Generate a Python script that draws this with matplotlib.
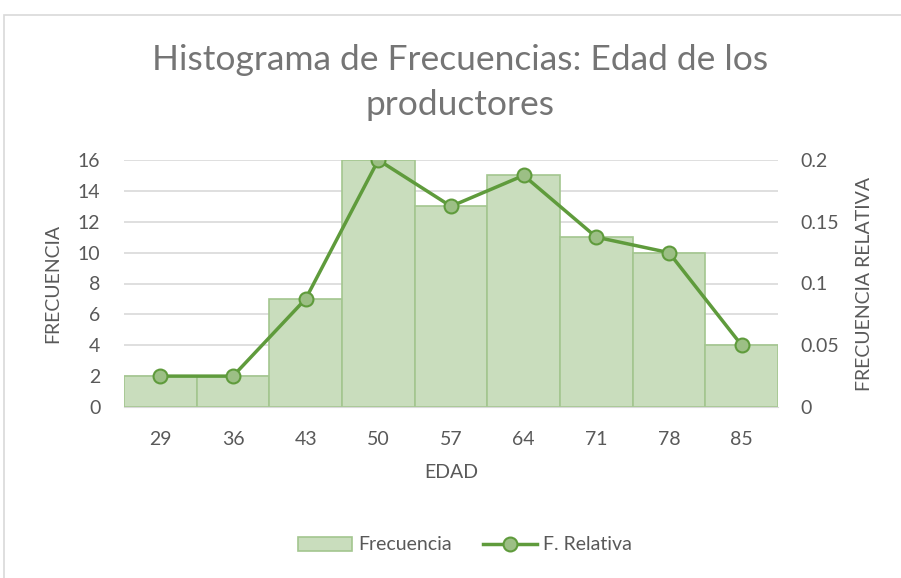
import matplotlib
matplotlib.use("Agg")
import matplotlib.pyplot as plt
from matplotlib.patches import Rectangle
from matplotlib.lines import Line2D
from matplotlib.patches import Patch

edades = ["29", "36", "43", "50", "57", "64", "71", "78", "85"]
frecuencia = [2, 2, 7, 16, 13, 15, 11, 10, 4]
f_relativa = [0.025, 0.025, 0.0875, 0.2, 0.1625, 0.1875, 0.1375, 0.125, 0.05]

plt.rcParams['font.family'] = ['Lato', 'DejaVu Sans']
txt = '#595959'

W, H = 901, 578
fig = plt.figure(figsize=(W/100, H/100), dpi=100)
fig.patches.append(Rectangle((4/W, -0.1), 1.2, 1.1 - 15/H, transform=fig.transFigure,
                             fill=False, edgecolor='#d9d9d9', lw=1.2))

ax = fig.add_axes([124/W, 1-407/H, (778-124)/W, (407-160)/H])
x = list(range(len(edades)))
ax.bar(x, frecuencia, width=1.0, color='#c9ddbd', edgecolor='#a3c68f', lw=1.2, zorder=2)
ax.set_xlim(-0.5, len(edades)-0.5)
ax.set_ylim(0, 16)
ax.set_yticks(range(0, 17, 2))
ax.grid(axis='y', color='#d9d9d9', lw=1.2, zorder=0)
ax.set_axisbelow(True)
for s in ax.spines.values():
    s.set_visible(False)
ax.spines['bottom'].set_visible(True)
ax.spines['bottom'].set_color('#d9d9d9')
ax.set_xticks(x)
ax.set_xticklabels(edades)
ax.tick_params(length=0, labelsize=14, colors=txt)
ax.tick_params(axis='x', pad=17)
ax.tick_params(axis='y', pad=17)
ax.set_xlabel('EDAD', fontsize=14, color=txt, labelpad=12)
ax.set_ylabel('FRECUENCIA', fontsize=14, color=txt, labelpad=12)

ax2 = ax.twinx()
ax2.plot(x, f_relativa, color='#5f9b3c', lw=2.5, marker='o', ms=10,
         markerfacecolor='#9cbf85', markeredgecolor='#5f9b3c', markeredgewidth=1.5, zorder=3)
ax2.set_ylim(0, 0.2)
ax2.set_yticks([0, 0.05, 0.1, 0.15, 0.2])
ax2.set_yticklabels(['0', '0.05', '0.1', '0.15', '0.2'])
for s in ax2.spines.values():
    s.set_visible(False)
ax2.tick_params(length=0, labelsize=14, colors=txt, pad=16)
ax2.set_ylabel('FRECUENCIA RELATIVA', fontsize=14, color=txt, labelpad=12)

fig.text(460/W, 1-60/H, 'Histograma de Frecuencias: Edad de los', ha='center', va='center',
         fontsize=25.5, color='#757575')
fig.text(460/W, 1-105/H, 'productores', ha='center', va='center', fontsize=25.5, color='#757575')

handles = [Patch(facecolor='#c9ddbd', edgecolor='#a3c68f', lw=1.2),
           Line2D([0], [0], color='#5f9b3c', lw=2.5, marker='o', ms=10,
                  markerfacecolor='#9cbf85', markeredgecolor='#5f9b3c', markeredgewidth=1.5)]
fig.legend(handles, ['Frecuencia', 'F. Relativa'], loc='center', bbox_to_anchor=(465/W, 1-545/H),
           ncol=2, frameon=False, fontsize=14, labelcolor=txt, handlelength=2.8,
           handletextpad=0.3, columnspacing=1.6)

fig.savefig('out.png', dpi=100)
